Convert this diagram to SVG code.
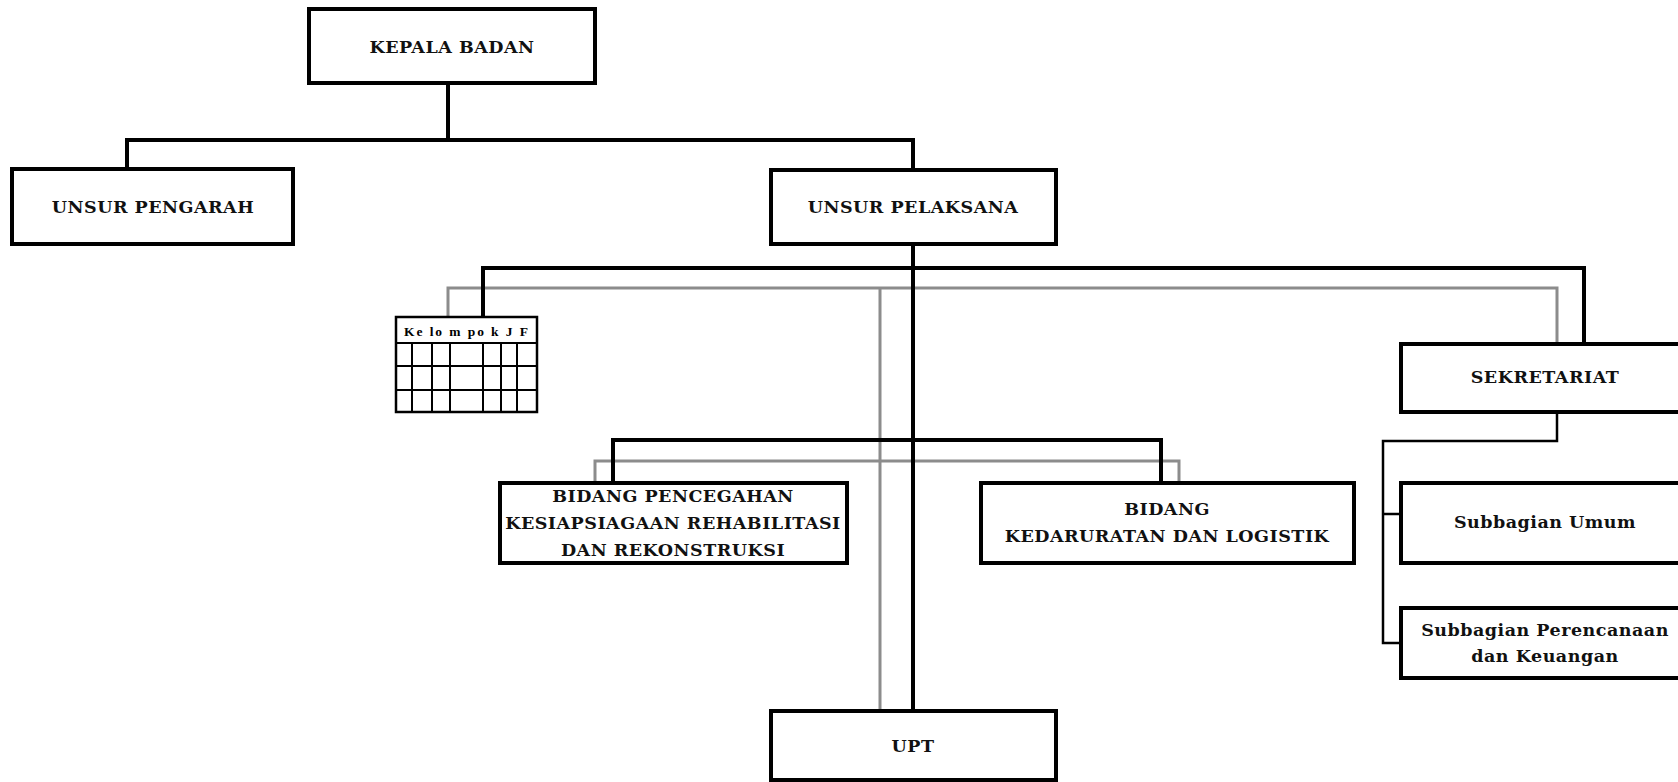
<svg xmlns="http://www.w3.org/2000/svg" width="1678" height="782" viewBox="0 0 1678 782">
<style>
.box{fill:#fff;stroke:#000;stroke-width:4}
.lbl{font-family:"DejaVu Serif","Liberation Serif",serif;font-weight:bold;font-size:17.5px;letter-spacing:0.5px;fill:#111;text-anchor:middle}
.blk{fill:none;stroke:#000;stroke-width:4}
.gry{fill:none;stroke:#8c8c8c;stroke-width:3}
.thin{fill:none;stroke:#000;stroke-width:2.5}
.tbl{fill:none;stroke:#000;stroke-width:2}
.tt{font-family:"Liberation Serif",serif;font-weight:bold;font-size:13.5px;fill:#000}
</style>
<rect width="1678" height="782" fill="#fff"/>
<g id="connectors">
<path class="gry" d="M448,317 V288 H1557 V344"/>
<path class="gry" d="M880,288 V711"/>
<path class="gry" d="M595,483 V461 H1179 V483"/>
<path class="blk" d="M448,83 V140"/>
<path class="blk" d="M127,169 V140 H913 V170"/>
<path class="blk" d="M913,244 V711"/>
<path class="blk" d="M483,317 V268 H1584 V344"/>
<path class="blk" d="M613,483 V440 H1161 V483"/>
<path class="thin" d="M1557,412 V441 H1383 V643 H1401"/>
<path class="thin" d="M1383,514 H1401"/>
</g>
<g id="kepala-badan">
<rect class="box" x="309" y="9" width="286" height="74"/>
<text class="lbl" x="452" y="53">KEPALA BADAN</text>
</g>
<g id="unsur-pengarah">
<rect class="box" x="12" y="169" width="281" height="75"/>
<text class="lbl" x="153" y="213">UNSUR PENGARAH</text>
</g>
<g id="unsur-pelaksana">
<rect class="box" x="771" y="170" width="285" height="74"/>
<text class="lbl" x="913" y="213">UNSUR PELAKSANA</text>
</g>
<g id="kelompok-jf">
<rect x="396" y="317" width="141" height="95" fill="#fff" stroke="#000" stroke-width="2.5"/>
<path class="tbl" d="M396,343 H537 M396,366 H537 M396,390 H537 M412,343 V412 M432,343 V412 M450,343 V412 M483,343 V412 M501,343 V412 M517,343 V412"/>
<text class="tt" x="404" y="336" textLength="124" lengthAdjust="spacing">Ke lo m po k  J  F</text>
</g>
<g id="sekretariat">
<rect class="box" x="1401" y="344" width="290" height="68"/>
<text class="lbl" x="1545" y="383">SEKRETARIAT</text>
</g>
<g id="bidang-pencegahan">
<rect class="box" x="500" y="483" width="347" height="80"/>
<text class="lbl" x="673" y="502">BIDANG PENCEGAHAN</text>
<text class="lbl" x="673" y="529">KESIAPSIAGAAN REHABILITASI</text>
<text class="lbl" x="673" y="556">DAN REKONSTRUKSI</text>
</g>
<g id="bidang-kedaruratan">
<rect class="box" x="981" y="483" width="373" height="80"/>
<text class="lbl" x="1167" y="515">BIDANG</text>
<text class="lbl" x="1167" y="542">KEDARURATAN DAN LOGISTIK</text>
</g>
<g id="subbagian-umum">
<rect class="box" x="1401" y="483" width="290" height="80"/>
<text class="lbl" x="1545" y="528">Subbagian Umum</text>
</g>
<g id="subbagian-perencanaan">
<rect class="box" x="1401" y="608" width="290" height="70"/>
<text class="lbl" x="1545" y="636">Subbagian Perencanaan</text>
<text class="lbl" x="1545" y="662">dan Keuangan</text>
</g>
<g id="upt">
<rect class="box" x="771" y="711" width="285" height="69"/>
<text class="lbl" x="913" y="752">UPT</text>
</g>
</svg>
